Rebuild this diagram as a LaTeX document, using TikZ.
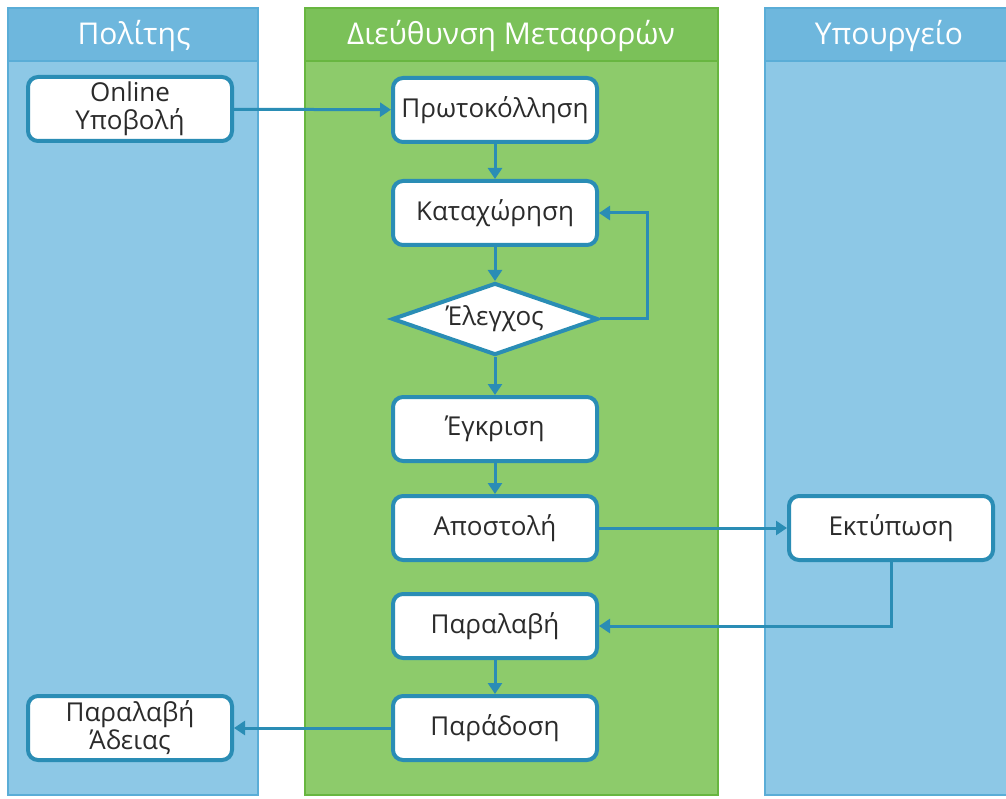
\documentclass[tikz,border=0pt]{standalone}
\usepackage{fontspec}
\setmainfont{Open Sans}
\usetikzlibrary{shapes.geometric,arrows.meta}
\definecolor{laneblue}{HTML}{8DC8E6}
\definecolor{headblue}{HTML}{6EB7DD}
\definecolor{edgeblue}{HTML}{5AADD7}
\definecolor{lanegreen}{HTML}{8DCB6B}
\definecolor{headgreen}{HTML}{7BC159}
\definecolor{edgegreen}{HTML}{68B640}
\definecolor{flowline}{HTML}{2A8DB5}
\definecolor{boxtext}{HTML}{2B2B2B}
\tikzstyle{stepbox} = [draw=flowline, fill=white, line width=4pt,
    rectangle, rounded corners=10pt, minimum width=204pt, minimum height=64pt,
    inner sep=2pt, align=center, text=boxtext, font=\fontsize{26}{28}\selectfont]
\tikzstyle{checkbox} = [draw=flowline, fill=white, line width=4pt,
    diamond, aspect=2.86, minimum width=206pt, minimum height=72pt, inner sep=0pt,
    text=boxtext, font=\fontsize{26}{28}\selectfont]
\tikzstyle{lanetitle} = [text=white, font=\fontsize{30}{34}\selectfont]
\tikzstyle{flow} = [draw=flowline, line width=3pt,
    -{Triangle[length=11pt,width=14pt]}]

\begin{document}
\begin{tikzpicture}[x=1pt,y=-1pt]
    \useasboundingbox (0,0) rectangle (1006,799);
    % swimlanes
    \filldraw[fill=laneblue, draw=edgeblue, line width=1.5pt] (8,8) rectangle (258,795);
    \filldraw[fill=headblue, draw=edgeblue, line width=1.5pt] (8,8) rectangle (258,61);
    \filldraw[fill=lanegreen, draw=edgegreen, line width=1.5pt] (305,8) rectangle (718,795);
    \filldraw[fill=headgreen, draw=edgegreen, line width=1.5pt] (305,8) rectangle (718,61);
    \filldraw[fill=laneblue, draw=edgeblue, line width=1.5pt] (765,8) rectangle (1012,795);
    \filldraw[fill=headblue, draw=edgeblue, line width=1.5pt] (765,8) rectangle (1012,61);
    \node[lanetitle] (citizen) at (134,36) {Πολίτης};
    \node[lanetitle] (transport) at (511,36) {Διεύθυνση Μεταφορών};
    \node[lanetitle] (ministry) at (889,36) {Υπουργείο};
    % steps
    \node[stepbox] (online) at (130,109) {Online\\Υποβολή};
    \node[stepbox] (protocol) at (495,110) {Πρωτοκόλληση};
    \node[stepbox] (entry) at (495,213) {Καταχώρηση};
    \node[checkbox] (check) at (495,319) {Έλεγχος};
    \node[stepbox] (approval) at (495,429) {Έγκριση};
    \node[stepbox] (dispatch) at (495,528) {Αποστολή};
    \node[stepbox] (printing) at (891,528) {Εκτύπωση};
    \node[stepbox] (receipt) at (495,626) {Παραλαβή};
    \node[stepbox] (delivery) at (495,728) {Παράδοση};
    \node[stepbox] (licence) at (130,728) {Παραλαβή\\Άδειας};
    % connectors
    \draw[flow] (online) -- (protocol);
    \draw[flow] (protocol) -- (entry);
    \draw[flow] (entry) -- (check);
    \draw[flow] (check.east) -- ++(47,0) |- (entry.east);
    \draw[flow] (check) -- (approval);
    \draw[flow] (approval) -- (dispatch);
    \draw[flow] (dispatch) -- (printing);
    \draw[flow] (printing.south) |- (receipt.east);
    \draw[flow] (receipt) -- (delivery);
    \draw[flow] (delivery) -- (licence);
\end{tikzpicture}
\end{document}
